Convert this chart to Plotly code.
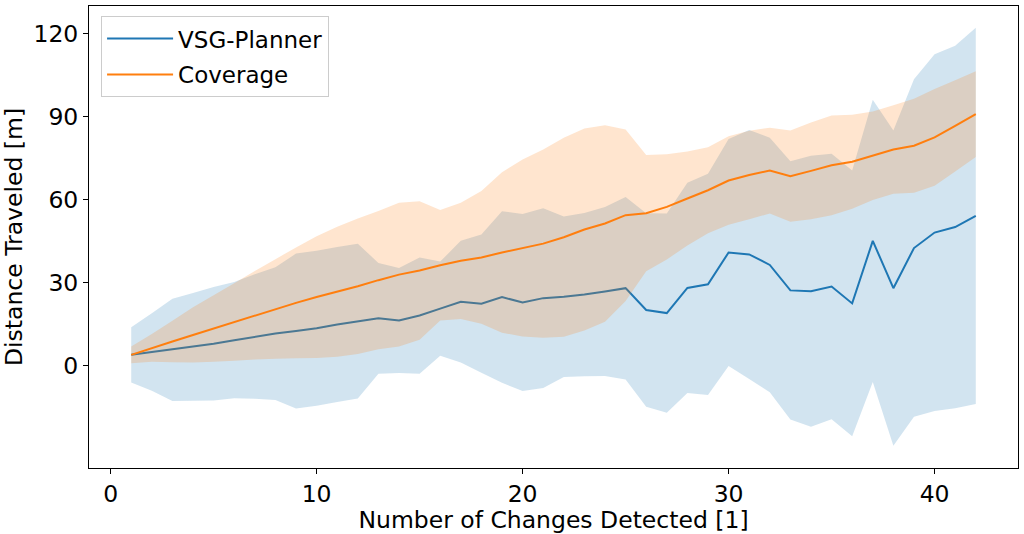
import plotly.graph_objects as go

changes = list(range(1, 43))

vsg_mean = [4.0, 5.0, 5.8, 6.9, 8.0, 9.3, 10.6, 11.7, 12.6, 13.6, 15.0, 16.2, 17.2, 16.4,
            18.2, 20.7, 23.2, 22.5, 24.9, 22.9, 24.5, 25.0, 25.8, 26.9, 28.1, 20.2, 19.1,
            28.2, 29.5, 41.0, 40.3, 36.5, 27.3, 27.0, 28.7, 22.6, 45.2, 28.1, 42.6, 48.2,
            50.2, 54.2]
vsg_std = [10, 14, 18.5, 19.5, 20.5, 21, 22.5, 24, 28, 28, 28, 28, 20, 19, 21, 17, 22, 25,
           31, 32, 32.5, 29, 29.5, 30.5, 33, 35, 36, 38, 40, 41, 45, 46, 46.7, 49, 48, 48,
           51, 57, 61, 64.5, 65.5, 68]

cov_mean = [4.0, 6.5, 8.8, 11.2, 13.5, 15.9, 18.3, 20.6, 22.8, 24.9, 26.8, 28.8, 31.0, 33.0,
            34.5, 36.4, 38.0, 39.2, 41.0, 42.6, 44.2, 46.5, 49.3, 51.5, 54.5, 55.2, 57.5,
            60.5, 63.5, 67.0, 69.0, 70.6, 68.6, 70.5, 72.5, 73.8, 76.0, 78.2, 79.6, 82.6,
            86.8, 91.0]
cov_std = [3, 5, 7.5, 10, 12, 14, 16, 18, 20, 22, 23.5, 24.5, 25, 26, 25, 20, 21, 24, 29, 32,
           34, 36, 36.5, 35.5, 31, 21, 19, 17, 15.5, 16, 16, 15.5, 16.5, 17.5, 18, 17,
           16, 16, 17, 17.5, 16.5, 15.5]

x_ticks = [0, 10, 20, 30, 40]
y_ticks = [0, 30, 60, 90, 120]

series = [
    ("VSG-Planner", vsg_mean, vsg_std, "#1f77b4", "rgba(31,119,180,0.2)"),
    ("Coverage", cov_mean, cov_std, "#ff7f0e", "rgba(255,127,14,0.2)"),
]

fig = go.Figure()
for name, mean, std, col, fillcol in series:
    upper = [m + s for m, s in zip(mean, std)]
    lower = [m - s for m, s in zip(mean, std)]
    fig.add_trace(go.Scatter(x=changes, y=mean, mode="lines", name=name, legendgroup=name,
                             line=dict(color=col, width=2)))
    fig.add_trace(go.Scatter(x=changes + changes[::-1], y=upper + lower[::-1],
                             fill="toself", fillcolor=fillcol, mode="none", legendgroup=name,
                             line=dict(width=0), showlegend=False, hoverinfo="skip"))

font = "DejaVu Sans, sans-serif"
fs = 23.5
fig.update_layout(
    width=1024, height=534,
    margin=dict(l=89, r=6, t=6, b=66),
    paper_bgcolor="white", plot_bgcolor="white",
    font=dict(family=font, size=fs, color="black"),
    showlegend=True,
    legend=dict(x=0.013, y=0.978, xanchor="left", yanchor="top",
                bgcolor="rgba(255,255,255,0.85)", bordercolor="#cccccc", borderwidth=1,
                font=dict(size=23), tracegroupgap=3, itemwidth=66),
)
fig.update_xaxes(range=[-1.05, 44.05], tickvals=x_ticks, ticks="outside", ticklen=5,
                 tickwidth=1, tickcolor="black", showline=True, linecolor="black",
                 linewidth=1, mirror=True, showgrid=False, zeroline=False, automargin=False,
                 title=dict(text="Number of Changes Detected [1]", standoff=0,
                            font=dict(size=fs)),
                 tickfont=dict(size=fs))
fig.update_yaxes(range=[-36.9, 130.1], tickvals=y_ticks, ticks="outside", ticklen=5,
                 tickwidth=1, tickcolor="black", showline=True, linecolor="black",
                 linewidth=1, mirror=True, showgrid=False, zeroline=False, automargin=False,
                 title=dict(text="Distance Traveled [m]", standoff=7,
                            font=dict(size=fs)),
                 tickfont=dict(size=fs))

fig.write_html("out.html", config={"displayModeBar": False},
               post_script="document.body.style.margin='0';")
